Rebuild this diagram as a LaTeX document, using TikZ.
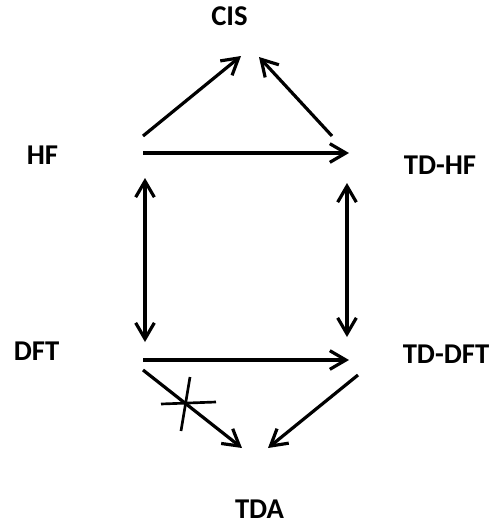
\documentclass[tikz,border=0pt]{standalone}
\usepackage{fontspec}
\setmainfont{Carlito}
\usetikzlibrary{arrows.meta}
\begin{document}
\begin{tikzpicture}[x=0.75pt,y=-0.75pt,
  lbl/.style={font=\fontsize{21.5}{25}\selectfont\bfseries, inner sep=0pt},
  conn/.style={line width=2.4pt, -{Straight Barb[length=12pt,width=14pt,line width=2.4pt]}},
  dconn/.style={line width=2.4pt, {Straight Barb[length=12pt,width=14pt,line width=2.4pt]}-{Straight Barb[length=12pt,width=14pt,line width=2.4pt]}},
  crossline/.style={line width=2pt}]
\useasboundingbox (0,0) rectangle (492,526);
\node[lbl] (cis) at (229.5,16) {CIS};
\node[lbl] (hf) at (42.5,155) {HF};
\node[lbl] (tdhf) at (440,165) {TD-HF};
\node[lbl] (dft) at (36.5,351) {DFT};
\node[lbl] (tddft) at (446,354) {TD-DFT};
\node[lbl] (tda) at (259.5,509) {TDA};
% arrow end points
\coordinate (hfA) at (143,136);
\coordinate (cisL) at (241,56);
\coordinate (tdhfA) at (332,136);
\coordinate (cisR) at (259,57);
\coordinate (hfB) at (143,153);
\coordinate (tdhfB) at (349,153);
\coordinate (hfC) at (145,178);
\coordinate (dftC) at (145,342);
\coordinate (tdhfC) at (347,183);
\coordinate (tddftC) at (347,337);
\coordinate (dftA) at (143,360);
\coordinate (tddftA) at (349,360);
\coordinate (dftB) at (143,370);
\coordinate (tdaL) at (242,448);
\coordinate (tddftB) at (358,375);
\coordinate (tdaR) at (268,448);
\coordinate (x1) at (190,377);
\coordinate (x2) at (181,431);
\coordinate (x3) at (161,404);
\coordinate (x4) at (216,402);
\draw[conn] (hfA) -- (cisL);
\draw[conn] (tdhfA) -- (cisR);
\draw[conn] (hfB) -- (tdhfB);
\draw[dconn] (hfC) -- (dftC);
\draw[dconn] (tdhfC) -- (tddftC);
\draw[conn] (dftA) -- (tddftA);
\draw[conn] (dftB) -- (tdaL);
\draw[conn] (tddftB) -- (tdaR);
\draw[crossline] (x1) -- (x2);
\draw[crossline] (x3) -- (x4);
\end{tikzpicture}
\end{document}
